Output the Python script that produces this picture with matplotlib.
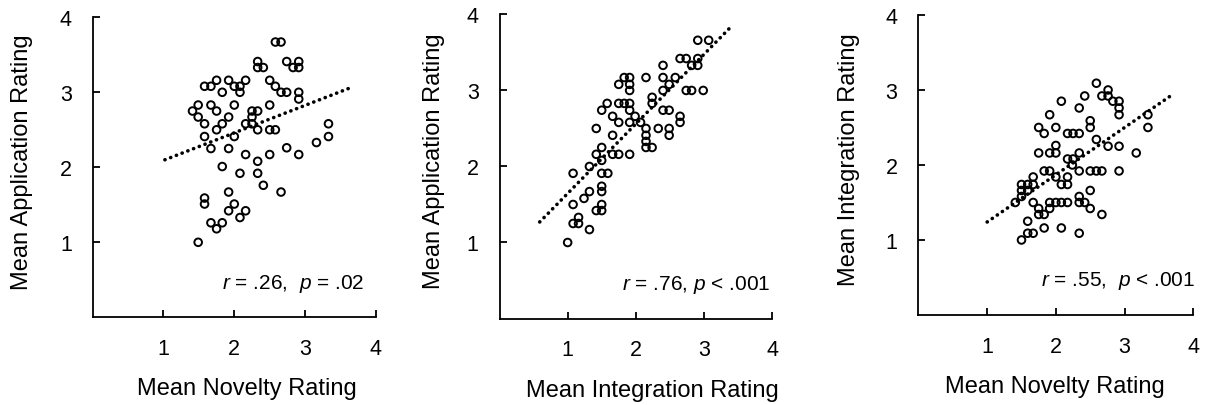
import numpy as np
import matplotlib
matplotlib.use("Agg")
import matplotlib.pyplot as plt

plt.rcParams['font.family'] = ['Liberation Sans', 'DejaVu Sans']
plt.rcParams['mathtext.fontset'] = 'custom'
plt.rcParams['mathtext.rm'] = 'Liberation Sans'
plt.rcParams['mathtext.it'] = 'Liberation Sans:italic'

# %% data

# panel 1 : novelty vs application
nov_1 = [1.49, 1.58, 1.58, 1.67, 1.75, 1.83, 1.92, 2.00, 2.08, 2.16, 1.92, 1.83,
         2.08, 2.16, 2.33, 2.33, 2.41, 2.66, 2.50, 2.74, 2.91, 3.16, 3.33, 3.33,
         1.67, 1.92, 1.58, 2.00, 1.58, 1.75, 1.83, 1.92, 1.49, 1.41, 1.49, 1.67,
         1.75, 2.00, 1.83, 1.58, 1.67, 1.75, 1.92, 2.00, 2.08, 2.08, 2.16, 2.16,
         2.25, 2.25, 2.25, 2.33, 2.33, 2.50, 2.58, 2.50, 2.50, 2.58, 2.66, 2.74,
         2.33, 2.33, 2.41, 2.58, 2.66, 2.74, 2.83, 2.91, 2.91, 2.91, 2.91]
app_1 = [1.00, 1.59, 1.51, 1.26, 1.18, 1.26, 1.42, 1.51, 1.33, 1.42, 1.67, 2.01,
         1.92, 2.17, 2.08, 1.92, 1.76, 1.67, 2.17, 2.26, 2.17, 2.33, 2.41, 2.58,
         2.25, 2.25, 2.41, 2.41, 2.58, 2.50, 2.58, 2.67, 2.67, 2.75, 2.83, 2.83,
         2.75, 2.83, 3.00, 3.08, 3.08, 3.16, 3.16, 3.08, 3.00, 3.08, 3.16, 2.58,
         2.58, 2.67, 2.75, 2.75, 2.50, 2.50, 2.50, 2.83, 3.16, 3.08, 3.00, 3.00,
         3.41, 3.33, 3.33, 3.67, 3.67, 3.41, 3.33, 3.33, 3.41, 3.00, 2.91]
fit_x_1 = [1.02, 3.64]
fit_y_1 = [2.10, 3.06]

# panel 2 : integration vs application
int_2 = [1.00, 1.08, 1.16, 1.16, 1.32, 1.08, 1.08, 1.24, 1.32, 1.32, 1.42, 1.50,
         1.50, 1.50, 1.50, 1.50, 1.59, 1.50, 1.42, 1.50, 1.42, 1.66, 1.75, 1.91,
         1.66, 1.66, 1.75, 1.50, 1.58, 1.75, 1.83, 1.91, 1.91, 1.91, 1.99, 2.07,
         2.15, 2.15, 2.15, 2.15, 2.24, 2.33, 2.49, 2.49, 2.65, 2.65, 2.24, 2.24,
         2.40, 2.49, 2.40, 2.49, 2.40, 2.58, 2.15, 2.40, 1.75, 1.83, 1.91, 1.91,
         1.91, 2.74, 2.82, 2.99, 2.65, 2.74, 2.82, 2.91, 2.91, 2.91, 3.07]
app_2 = [1.00, 1.25, 1.25, 1.33, 1.17, 1.50, 1.91, 1.58, 1.67, 2.00, 1.42, 1.42,
         1.50, 1.67, 1.74, 1.91, 1.91, 2.08, 2.16, 2.25, 2.50, 2.16, 2.16, 2.16,
         2.41, 2.66, 2.58, 2.74, 2.83, 2.83, 2.83, 2.83, 2.74, 2.58, 2.66, 2.58,
         2.50, 2.41, 2.33, 2.25, 2.25, 2.50, 2.50, 2.41, 2.66, 2.58, 2.83, 2.91,
         2.74, 2.74, 3.00, 3.08, 3.17, 3.17, 3.17, 3.33, 3.08, 3.17, 3.17, 3.08,
         3.00, 3.00, 3.00, 3.00, 3.42, 3.42, 3.33, 3.33, 3.42, 3.66, 3.66]
fit_x_2 = [0.59, 3.40]
fit_y_2 = [1.27, 3.84]

# panel 3 : novelty vs integration
nov_3 = [1.50, 1.59, 1.67, 1.59, 1.83, 2.08, 2.34, 1.41, 1.67, 1.75, 1.75, 1.83,
         1.91, 1.91, 2.00, 2.08, 2.17, 2.34, 2.34, 2.42, 2.50, 2.50, 2.67, 1.50,
         1.50, 1.59, 1.59, 1.67, 1.67, 1.50, 1.83, 1.91, 2.00, 2.08, 2.17, 2.17,
         2.34, 2.50, 2.59, 2.67, 2.92, 2.24, 2.25, 2.17, 2.34, 1.75, 1.91, 2.00,
         2.00, 2.76, 2.92, 2.59, 3.17, 1.75, 1.83, 2.00, 2.17, 2.25, 2.34, 2.50,
         2.50, 1.91, 2.34, 2.08, 2.42, 2.59, 2.67, 2.76, 2.76, 2.83, 2.92, 2.92,
         2.92, 3.34, 3.34]
int_3 = [1.00, 1.09, 1.09, 1.25, 1.16, 1.16, 1.09, 1.50, 1.50, 1.42, 1.34, 1.34,
         1.42, 1.50, 1.50, 1.50, 1.50, 1.50, 1.58, 1.50, 1.42, 1.66, 1.34, 1.66,
         1.74, 1.74, 1.66, 1.74, 1.84, 1.58, 1.92, 1.92, 1.84, 1.74, 1.74, 1.84,
         1.92, 1.92, 1.92, 1.92, 1.92, 2.00, 2.08, 2.08, 2.16, 2.16, 2.16, 2.26,
         2.16, 2.25, 2.25, 2.34, 2.16, 2.50, 2.42, 2.50, 2.42, 2.42, 2.42, 2.50,
         2.59, 2.67, 2.76, 2.85, 2.92, 3.09, 2.92, 3.00, 2.92, 2.85, 2.85, 2.76,
         2.67, 2.67, 2.50]
fit_x_3 = [1.00, 3.70]
fit_y_3 = [1.24, 2.94]

ticks = [1, 2, 3, 4]

# %% drawing


def scatter_panel(ax, x, y, fit_x, fit_y, xlabel, ylabel, stats, stats_x,
                  xlab_pos, ylab_pos):
    ax.plot(fit_x, fit_y, color='black', lw=2.6,
            linestyle=(0, (0.05, 1.65)), dash_capstyle='round', zorder=1)
    ax.scatter(x, y, s=30, facecolors='none', edgecolors='black',
               linewidths=1.4, zorder=2)
    ax.set_xlim(0, 4)
    ax.set_ylim(0, 4)
    ax.set_xticks(ticks)
    ax.set_yticks(ticks)
    ax.spines['top'].set_visible(False)
    ax.spines['right'].set_visible(False)
    ax.spines['left'].set_linewidth(1.3)
    ax.spines['bottom'].set_linewidth(1.3)
    ax.tick_params(direction='in', length=5, width=1.3, labelsize=15.5, pad=15)
    ax.set_xlabel(xlabel, fontsize=17)
    ax.set_ylabel(ylabel, fontsize=17)
    ax.xaxis.set_label_coords(*xlab_pos)
    ax.yaxis.set_label_coords(*ylab_pos)
    ax.text(stats_x, 0.115, stats, transform=ax.transAxes, ha='right',
            va='center', fontsize=15)


fig = plt.figure(figsize=(12.08, 4.06), dpi=100)
ax1 = fig.add_axes([0.0767, 0.216, 0.2345, 0.739])
ax2 = fig.add_axes([0.4135, 0.213, 0.2256, 0.749])
ax3 = fig.add_axes([0.7603, 0.2217, 0.2275, 0.739])

scatter_panel(ax1, nov_1, app_1, fit_x_1, fit_y_1,
              'Mean Novelty Rating', 'Mean Application Rating',
              r'$r$ = .26,  $p$ = .02', 0.961, (0.546, -0.199), (-0.21, 0.52))
scatter_panel(ax2, int_2, app_2, fit_x_2, fit_y_2,
              'Mean Integration Rating', 'Mean Application Rating',
              r'$r$ = .76, $p$ < .001', 0.993, (0.56, -0.199), (-0.2, 0.52))
scatter_panel(ax3, nov_3, int_3, fit_x_3, fit_y_3,
              'Mean Novelty Rating', 'Mean Integration Rating',
              r'$r$ = .55,  $p$ < .001', 1.006, (0.497, -0.2), (-0.213, 0.52))

fig.savefig('out.png', dpi=100)
